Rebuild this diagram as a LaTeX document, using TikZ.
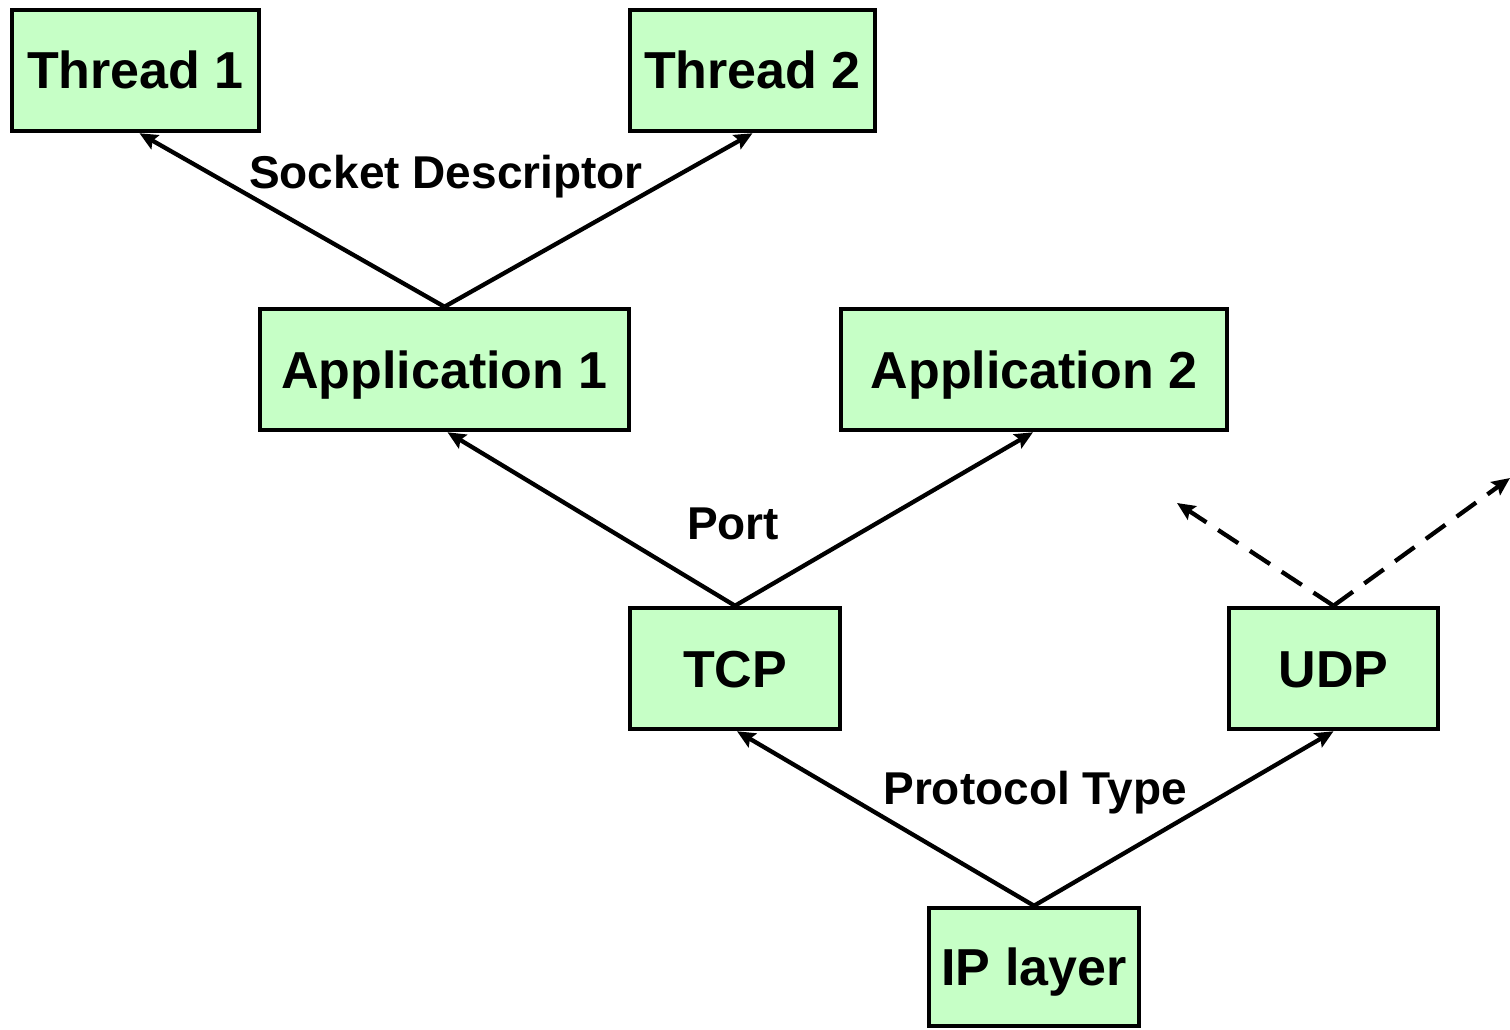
\documentclass[tikz,border=0pt]{standalone}
\usepackage{fontspec}
\setmainfont{Liberation Sans}
\usetikzlibrary{arrows.meta}
\definecolor{boxfill}{HTML}{C6FFC6}
\begin{document}
\begin{tikzpicture}[x=1pt,y=-1pt,
  box/.style={draw=black,line width=4.5pt,fill=boxfill,inner sep=0pt,minimum height=121pt,
    text height=37pt,text depth=0pt,
    font=\fontsize{52}{60}\selectfont\bfseries},
  lbl/.style={font=\fontsize{46}{54}\selectfont\bfseries,inner sep=0pt,text height=33pt,text depth=0pt},
  conn/.style={line width=4.3pt,-{Stealth[length=18pt,width=16pt,inset=3pt]}},
  dconn/.style={conn,dash pattern=on 24pt off 14pt}]
\useasboundingbox (0,0) rectangle (1510,1030);
\node[box,minimum width=247pt] (t1) at (135.5,70.5) {Thread 1};
\node[box,minimum width=245pt] (t2) at (752.5,70.5) {Thread 2};
\node[box,minimum width=369pt] (a1) at (444.5,369.5) {Application 1};
\node[box,minimum width=386pt] (a2) at (1034,369.5) {Application 2};
\node[box,minimum width=210pt] (tcp) at (735,668.5) {TCP};
\node[box,minimum width=209pt] (udp) at (1333.5,668.5) {UDP};
\node[box,minimum width=210pt,minimum height=118pt] (ip) at (1034,967) {IP layer};
\node[lbl] (l1) at (446,172) {Socket Descriptor};
\node[lbl] (l2) at (733,523) {Port};
\node[lbl] (l3) at (1035,788) {Protocol Type};
\coordinate (d1) at (1177,503);
\coordinate (d2) at (1510,478);
\draw[conn] (a1.north) -- ([xshift=4pt]t1.south);
\draw[conn] (a1.north) -- (t2.south);
\draw[conn] (tcp.north) -- ([xshift=3pt]a1.south);
\draw[conn] (tcp.north) -- ([xshift=-1pt]a2.south);
\draw[conn] (ip.north) -- ([xshift=2pt]tcp.south);
\draw[conn] (ip.north) -- (udp.south);
\draw[dconn] (udp.north) -- (d1);
\draw[dconn] (udp.north) -- (d2);
\end{tikzpicture}
\end{document}
